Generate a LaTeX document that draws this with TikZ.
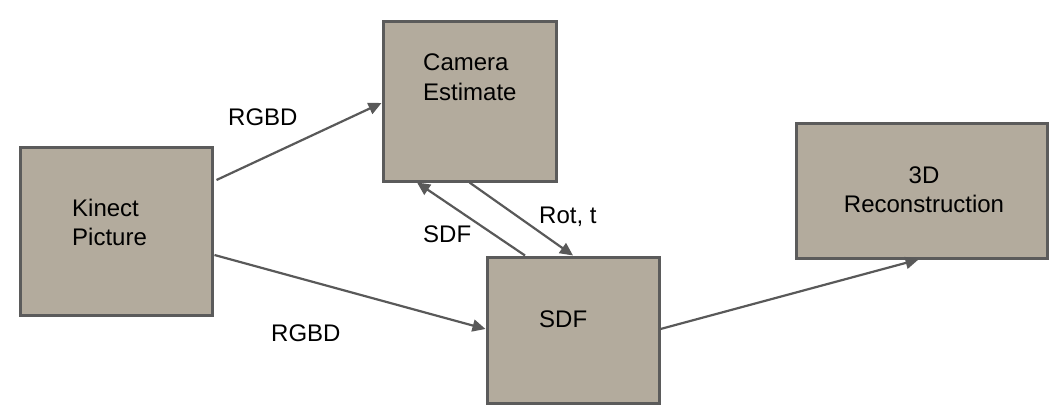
\documentclass[tikz,border=0pt]{standalone}
\usepackage{fontspec}
\setmainfont{Liberation Sans}
\usetikzlibrary{arrows.meta}
\definecolor{boxfill}{HTML}{B3AB9D}
\definecolor{boxline}{HTML}{5B5B5B}
\definecolor{arrowcol}{HTML}{595959}
\tikzset{
  block/.style={draw=boxline, fill=boxfill, line width=3pt, inner sep=0pt},
  txt/.style={inner sep=0pt, font=\fontsize{24}{29}\selectfont},
  conn/.style={draw=arrowcol, line width=2.2pt, -{Triangle[length=13pt,width=12pt]}},
}
\begin{document}
\begin{tikzpicture}[x=1pt,y=-1pt]
\useasboundingbox (0,0) rectangle (1056,409);
% boxes
\node[block, minimum width=192pt, minimum height=168pt] (kin) at (116,231) {};
\node[block, minimum width=173pt, minimum height=159pt] (cam) at (469.5,101.5) {};
\node[block, minimum width=172pt, minimum height=146pt] (sdf) at (573,330) {};
\node[block, minimum width=251pt, minimum height=135pt] (rec) at (921.5,190.5) {};
% box texts (base anchor = last line's baseline)
\node[txt, anchor=base west, align=left] (kintxt) at (72,245) {Kinect\\Picture};
\node[txt, anchor=base west, align=left] (camtxt) at (423,100) {Camera\\Estimate};
\node[txt, anchor=base west] (sdftxt) at (539,327) {SDF};
\node[txt, anchor=base, align=center] (rectxt) at (924,212) {3D\\Reconstruction};
% labels
\node[txt, anchor=base west] (l1) at (228,125) {RGBD};
\node[txt, anchor=base west] (l2) at (271,341) {RGBD};
\node[txt, anchor=base west] (l3) at (539,223) {Rot, t};
\node[txt, anchor=base west] (l4) at (423,242) {SDF};
% connectors
\draw[conn] ([shift={(3,-51)}]kin.east) -- ([shift={(0,1.5)}]cam.west);
\draw[conn] ([shift={(1,24)}]kin.east) -- ([shift={(0,-1)}]sdf.west);
\draw[conn] (cam.south) -- (sdf.north);
\draw[conn] ([shift={(-48,0)}]sdf.north) -- ([shift={(-52.5,0)}]cam.south);
\draw[conn] ([shift={(0,-1)}]sdf.east) -- ([shift={(-3,0)}]rec.south);
\end{tikzpicture}
\end{document}
